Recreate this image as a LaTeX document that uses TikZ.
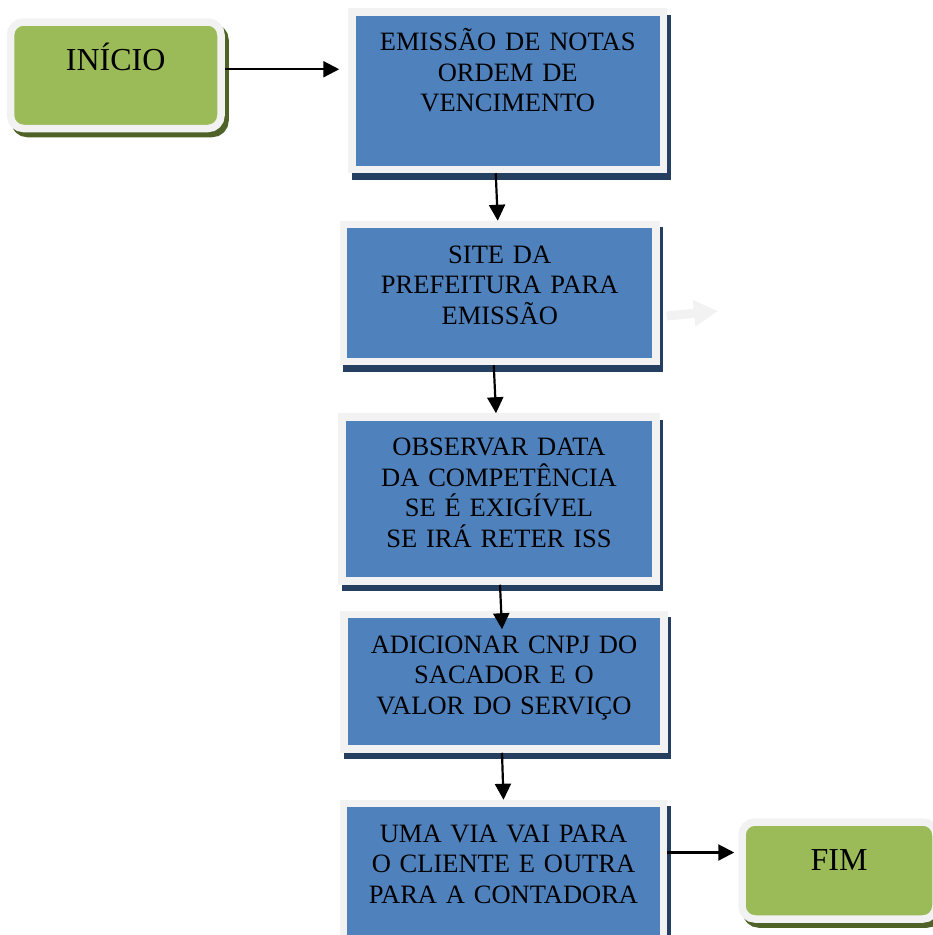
\documentclass[tikz,border=0pt]{standalone}
\usepackage{fontspec}
\setmainfont{Liberation Serif}
\usetikzlibrary{arrows.meta,calc,positioning}
\definecolor{rimgray}{HTML}{F2F2F2}
\definecolor{flowblue}{HTML}{4F81BD}
\definecolor{shadowblue}{HTML}{243F60}
\definecolor{flowgreen}{HTML}{9BBB59}
\definecolor{shadowgreen}{HTML}{4F6228}
\begin{document}
\begin{tikzpicture}[
    x=1pt, y=-1pt,
    process/.style={rectangle, fill=flowblue, draw=rimgray, line width=7.5pt,
        preaction={draw=shadowblue, fill=shadowblue, line width=7.5pt,
            transform canvas={xshift=3.5pt, yshift=-6.5pt}},
        text width=290pt, align=center, inner xsep=0pt, inner ysep=0pt,
        text height=38.5pt, font=\fontsize{26.5}{30.5}\selectfont},
    terminal/.style={rectangle, rounded corners=13pt, fill=flowgreen, draw=rimgray, line width=7.5pt,
        preaction={draw=shadowgreen, fill=shadowgreen, line width=7.5pt,
            transform canvas={xshift=4pt, yshift=-5pt}},
        text width=180pt, align=center, inner xsep=0pt, inner ysep=0pt,
        text height=48pt, font=\fontsize{32}{36}\selectfont},
    flow/.style={draw, line width=2.2pt, -{Triangle[length=16pt, width=16pt]}},
    faint/.style={draw=rimgray, line width=9pt, -{Triangle[length=24pt, width=25pt]}}
]
\useasboundingbox (0,0) rectangle (933,935);
\node[terminal, minimum width=210.5pt, text depth=58.5pt] (inicio) at (115.75,75.25) {INÍCIO};
\node[process, minimum width=311.5pt, text depth=119pt] (emissao) at (507.75,90.75)
    {EMISSÃO DE NOTAS\\ ORDEM DE\\ VENCIMENTO};
\node[process, minimum width=312.5pt, text depth=98.5pt] (site) at (499.75,293)
    {SITE DA\\ PREFEITURA PARA\\ EMISSÃO};
\node[process, minimum width=314pt, text depth=125.5pt] (observar) at (499,499)
    {OBSERVAR DATA\\ DA COMPETÊNCIA\\ SE É EXIGÍVEL\\ SE IRÁ RETER ISS};
\node[process, minimum width=320pt, text depth=96pt] (adicionar) at (504,681.75)
    {ADICIONAR CNPJ DO\\ SACADOR E O\\ VALOR DO SERVIÇO};
\node[process, minimum width=320pt, text depth=111.5pt] (via) at (503.5,878.5)
    {UMA VIA VAI PARA\\ O CLIENTE E OUTRA\\ PARA A CONTADORA};
\node[terminal, minimum width=194pt, text depth=49pt] (fim) at (839,870.5) {FIM};
\coordinate (fadedend) at (718,311);

\draw[flow] ($(inicio.east)+(0,-6)$) -- ($(emissao.west |- inicio.east)+(-9,-6)$);
\draw[flow] ([xshift=-12pt]emissao.south) -- ([xshift=-2pt]site.north);
\draw[flow] ([xshift=-6pt]site.south) -- ([xshift=-3pt]observar.north);
\draw[flow] ([xshift=1pt]observar.south) -- ([xshift=-2pt, yshift=-18.5pt]adicionar.north);
\draw[flow] ([xshift=-2pt]adicionar.south) -- (via.north);
\draw[flow] ($(via.east |- fim.west)+(0,-18)$) -- ($(fim.west)+(-4,-18)$);
\draw[faint] ($(site.east)+(7,23)$) -- (fadedend);
\end{tikzpicture}
\end{document}
